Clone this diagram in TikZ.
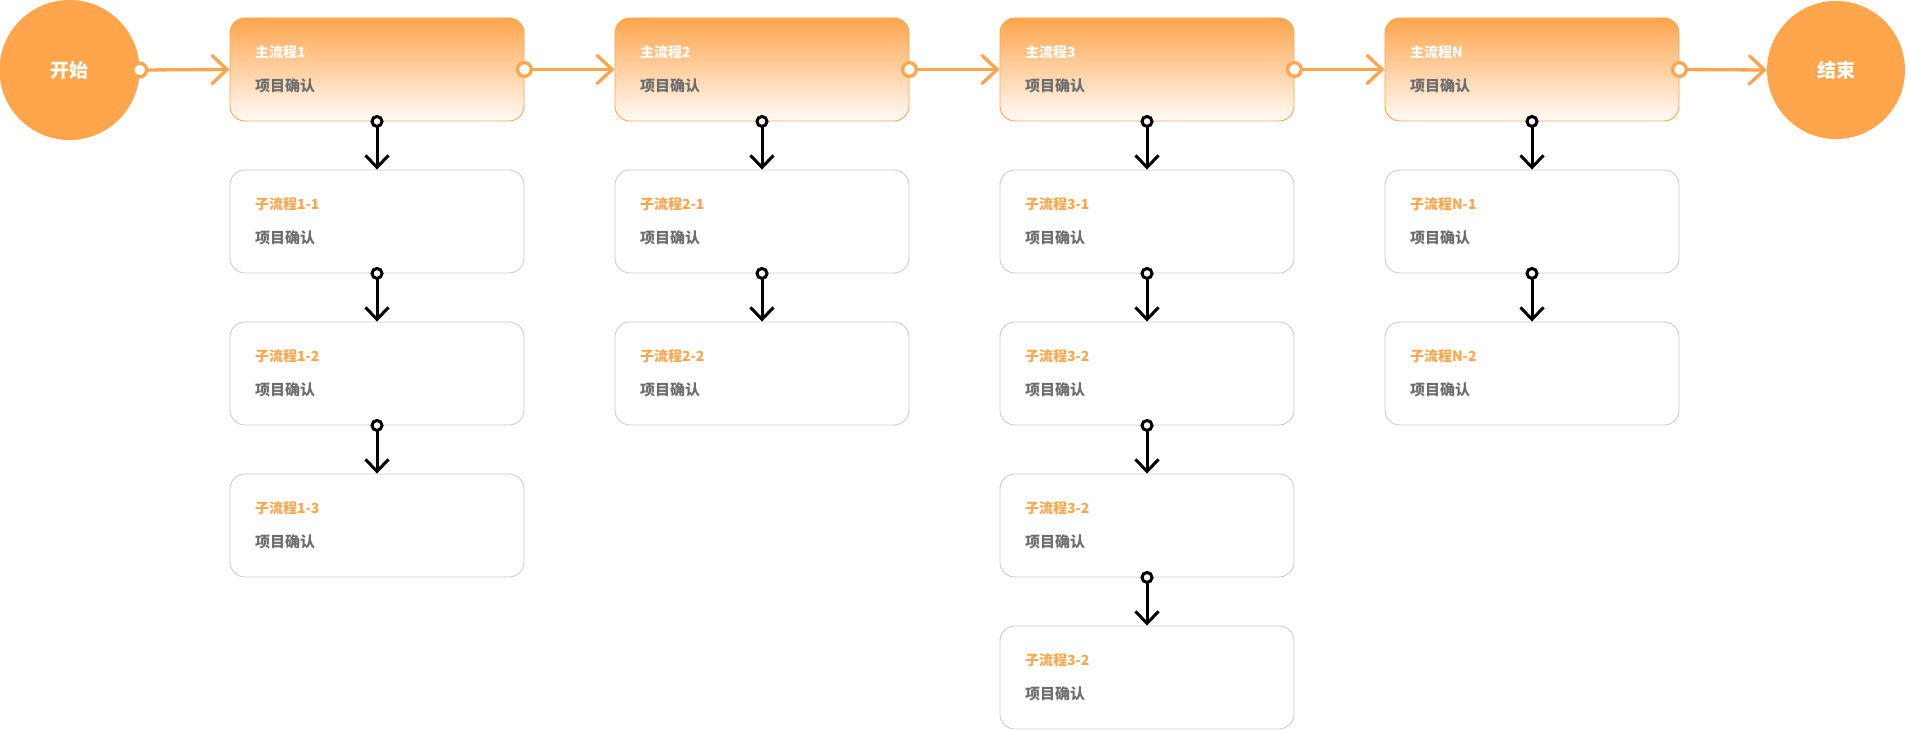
\documentclass[tikz,border=0pt]{standalone}
\usepackage{fontspec}
\setmainfont{Noto Sans CJK SC}
\usetikzlibrary{arrows.meta}
\definecolor{flow}{RGB}{255,165,76}
\definecolor{edge}{RGB}{204,204,204}
\definecolor{blurtxt}{RGB}{110,110,110}

\begin{document}
\begin{tikzpicture}[x=1pt, y=-1pt,
    box/.style={rounded corners=15pt, line width=0.9pt, minimum width=294pt, minimum height=103pt, text width=244pt, inner xsep=25pt, inner ysep=0pt, align=left, font=\fontsize{14pt}{34pt}\selectfont\bfseries},
    mainbox/.style={box, draw=flow, top color=flow, middle color=flow!32, bottom color=flow!4, text=white},
    subbox/.style={box, draw=edge, fill=white, text=flow},
    endpt/.style={circle, fill=flow, minimum size=140pt, inner sep=0pt, text=white, font=\fontsize{19pt}{22pt}\selectfont\bfseries},
    arr/.style={{Circle[length=17pt, width=17pt, fill=white]}-{Straight Barb[length=15pt, width=28pt, line cap=round]}, line width=3.3pt, flow, shorten <=-8.5pt},
    subarr/.style={{Circle[length=13pt, width=13pt, fill=white]}-{Straight Barb[length=12pt, width=23pt]}, line width=3pt, black, shorten <=-6.5pt},
]
\useasboundingbox (0,0) rectangle (1910,730);

% Start / end
\node[endpt] (start) at (69.5,70) {开始};
\node[endpt, minimum size=138pt] (stop) at (1836,70) {结束};

% Main flow
\node[mainbox] (m1) at (377,69.5) {主流程1\\\textcolor{blurtxt}{\fontsize{15pt}{34pt}\selectfont 项目确认}};
\node[mainbox] (m2) at (762,69.5) {主流程2\\\textcolor{blurtxt}{\fontsize{15pt}{34pt}\selectfont 项目确认}};
\node[mainbox] (m3) at (1147,69.5) {主流程3\\\textcolor{blurtxt}{\fontsize{15pt}{34pt}\selectfont 项目确认}};
\node[mainbox] (mN) at (1532,69.5) {主流程N\\\textcolor{blurtxt}{\fontsize{15pt}{34pt}\selectfont 项目确认}};

% Sub flows
\node[subbox] (s11) at (377,221.5) {子流程1-1\\\textcolor{blurtxt}{\fontsize{15pt}{34pt}\selectfont 项目确认}};
\node[subbox] (s12) at (377,373.5) {子流程1-2\\\textcolor{blurtxt}{\fontsize{15pt}{34pt}\selectfont 项目确认}};
\node[subbox] (s13) at (377,525.5) {子流程1-3\\\textcolor{blurtxt}{\fontsize{15pt}{34pt}\selectfont 项目确认}};
\node[subbox] (s21) at (762,221.5) {子流程2-1\\\textcolor{blurtxt}{\fontsize{15pt}{34pt}\selectfont 项目确认}};
\node[subbox] (s22) at (762,373.5) {子流程2-2\\\textcolor{blurtxt}{\fontsize{15pt}{34pt}\selectfont 项目确认}};
\node[subbox] (s31) at (1147,221.5) {子流程3-1\\\textcolor{blurtxt}{\fontsize{15pt}{34pt}\selectfont 项目确认}};
\node[subbox] (s32) at (1147,373.5) {子流程3-2\\\textcolor{blurtxt}{\fontsize{15pt}{34pt}\selectfont 项目确认}};
\node[subbox] (s33) at (1147,525.5) {子流程3-2\\\textcolor{blurtxt}{\fontsize{15pt}{34pt}\selectfont 项目确认}};
\node[subbox] (s34) at (1147,677.5) {子流程3-2\\\textcolor{blurtxt}{\fontsize{15pt}{34pt}\selectfont 项目确认}};
\node[subbox] (sN1) at (1532,221.5) {子流程N-1\\\textcolor{blurtxt}{\fontsize{15pt}{34pt}\selectfont 项目确认}};
\node[subbox] (sN2) at (1532,373.5) {子流程N-2\\\textcolor{blurtxt}{\fontsize{15pt}{34pt}\selectfont 项目确认}};

% Arrows
\draw[arr] (start.east) -- (m1.west);
\draw[arr] (m1.east) -- (m2.west);
\draw[arr] (m2.east) -- (m3.west);
\draw[arr] (m3.east) -- (mN.west);
\draw[arr] (mN.east) -- (stop.west);

\draw[subarr] (m1.south) -- (s11.north);
\draw[subarr] (s11.south) -- (s12.north);
\draw[subarr] (s12.south) -- (s13.north);
\draw[subarr] (m2.south) -- (s21.north);
\draw[subarr] (s21.south) -- (s22.north);
\draw[subarr] (m3.south) -- (s31.north);
\draw[subarr] (s31.south) -- (s32.north);
\draw[subarr] (s32.south) -- (s33.north);
\draw[subarr] (s33.south) -- (s34.north);
\draw[subarr] (mN.south) -- (sN1.north);
\draw[subarr] (sN1.south) -- (sN2.north);
\end{tikzpicture}
\end{document}
